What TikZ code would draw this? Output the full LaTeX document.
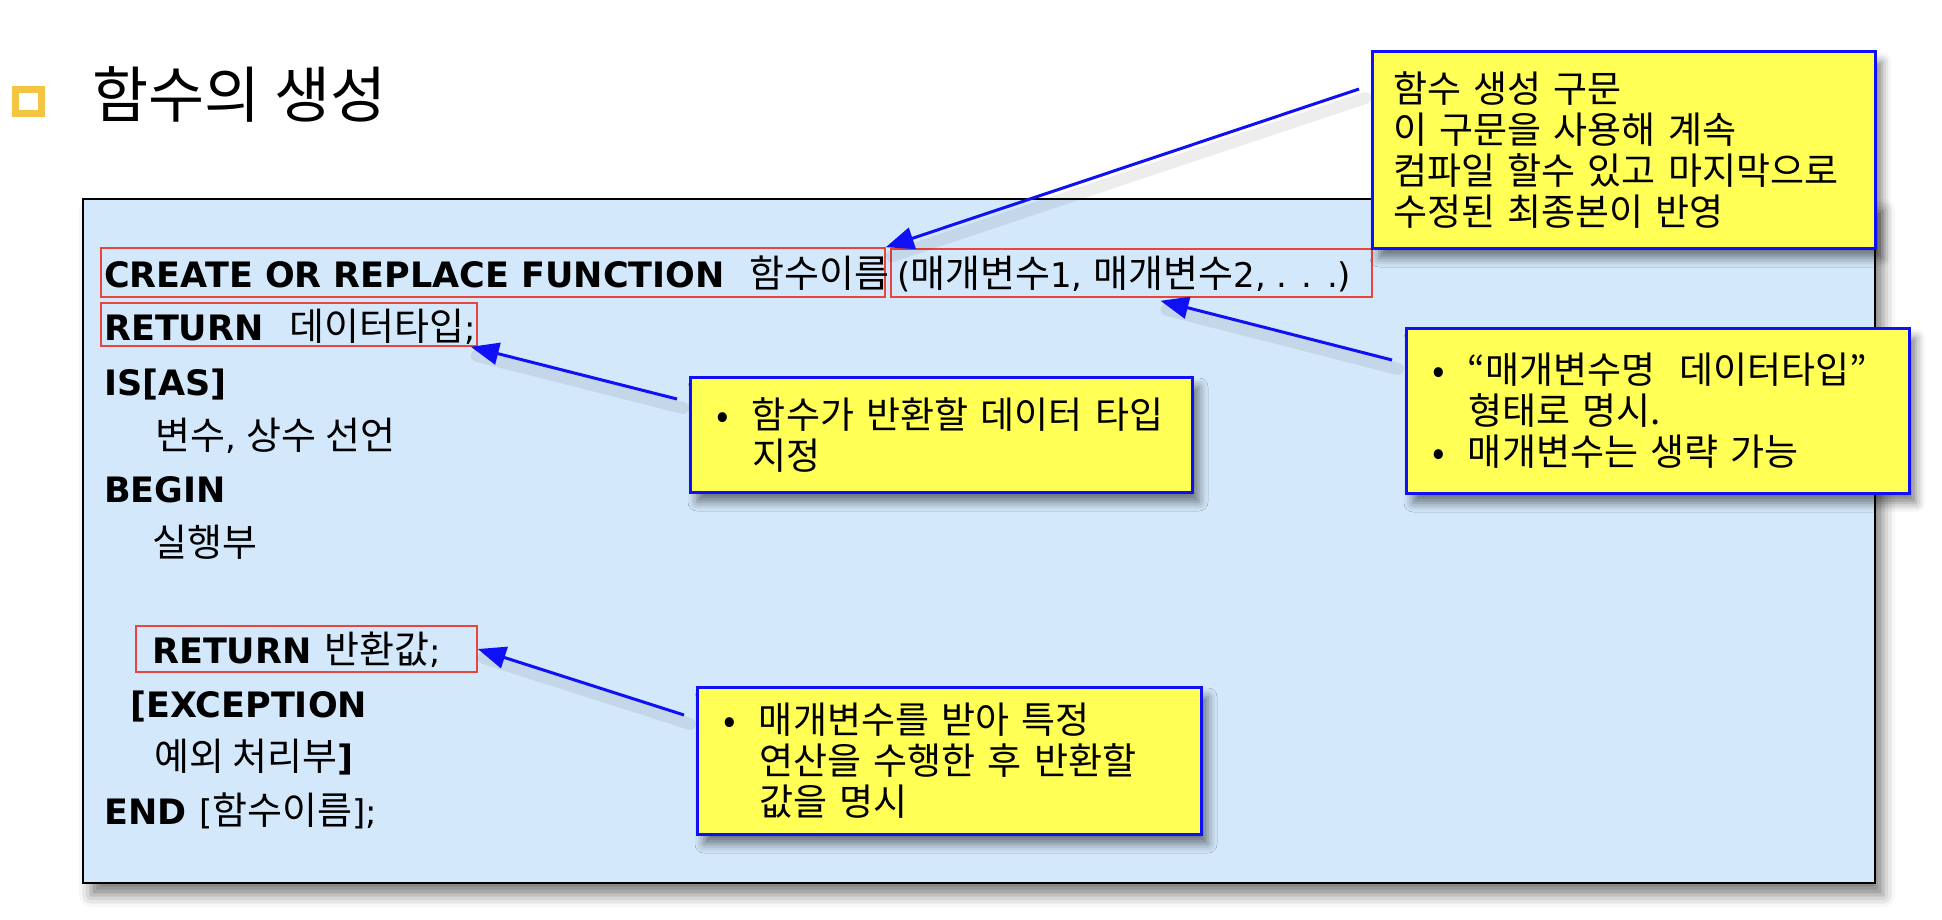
\documentclass[tikz,border=0pt]{standalone}
\usepackage{fontspec}
\setmainfont{Noto Sans CJK KR}
\newfontfamily\kwfont{DejaVu Sans}
\usetikzlibrary{arrows.meta,fit,shadows.blur}

\definecolor{paneblue}{HTML}{D3E8FB}
\definecolor{noteyellow}{HTML}{FFFF55}
\definecolor{noteblue}{HTML}{1010F5}
\definecolor{markred}{HTML}{E8453C}
\definecolor{titlegold}{HTML}{F4C542}

\newcommand{\kw}[1]{{\kwfont\fontsize{35}{40}\selectfont\bfseries #1}}
\newcommand{\lat}[1]{{\kwfont\fontsize{34}{40}\selectfont #1}}
\newcommand{\bul}{\makebox[36pt][l]{•}}

\tikzset{
  codeline/.style={anchor=base west, inner sep=0pt, font=\fontsize{38}{40}\selectfont},
  redbox/.style={draw=markred, line width=1.6pt, inner sep=0pt},
  pane/.style={draw=black, fill=paneblue, line width=2pt, inner sep=0pt,
    blur shadow={shadow xshift=8pt, shadow yshift=-12pt, shadow blur radius=12pt, shadow opacity=50}},
  note/.style={draw=noteblue, fill=noteyellow, line width=3pt, align=left, inner ysep=0pt,
    font=\fontsize{37}{41}\selectfont,
    blur shadow={shadow xshift=7pt, shadow yshift=-10pt, shadow blur radius=9pt, shadow opacity=50}},
  pointer/.style={draw=noteblue, line width=3pt, -{Triangle[length=28pt,width=22pt]}},
  pointershade/.style={draw=black, opacity=0.07, line width=12pt, line cap=round, transform canvas={xshift=6pt,yshift=-9pt}},
}

\begin{document}
\begin{tikzpicture}[x=1pt,y=-1pt]
\useasboundingbox (0,0) rectangle (1942,920);

% title
\draw[titlegold, line width=7pt] (15.5,89.5) rectangle (41.5,113.5);
\node[anchor=base west, inner sep=0pt, font=\fontsize{61}{66}\selectfont] (title) at (92,118) {함수의 생성};

% code pane
\node[pane, fit={(83,199) (1875,883)}] (pane) {};

\node[redbox, fit={(101,248) (885,297)}] (boxfn) {};
\node[redbox, fit={(891,249) (1372,297)}] (boxpar) {};
\node[redbox, fit={(101,303) (477,346)}] (boxrt) {};
\node[redbox, fit={(136,626) (477,672)}] (boxrv) {};

\node[codeline] (l1a) at (104,287) {\kw{CREATE OR REPLACE FUNCTION}};
\node[codeline] (l1b) at (749,287) {함수이름};
\node[codeline] (l1c) at (897,287) {\lat{(}매개변수\lat{1, }매개변수\lat{2, . . .)}};
\node[codeline] (l2a) at (104,340) {\kw{RETURN}};
\node[codeline] (l2b) at (289,340) {데이터타입\lat{;}};
\node[codeline] (l3) at (104,395) {\kw{IS[AS]}};
\node[codeline] (l4) at (155,449) {변수\lat{, }상수 선언};
\node[codeline] (l5) at (104,502) {\kw{BEGIN}};
\node[codeline] (l6) at (152,556) {실행부};
\node[codeline] (l7a) at (152,663) {\kw{RETURN}};
\node[codeline] (l7b) at (324,663) {반환값\lat{;}};
\node[codeline] (l8) at (130,717) {\kw{[EXCEPTION}};
\node[codeline] (l9) at (154,770) {예외 처리부\kw{]}};
\node[codeline] (l10a) at (104,824) {\kw{END}};
\node[codeline] (l10b) at (199,824) {\lat{[}함수이름\lat{];}};

% pointers
\coordinate (fromA) at (1359,89);
\coordinate (fromB) at (1392,360);
\coordinate (fromC) at (677,399);
\coordinate (fromD) at (684,715);
\draw[pointershade] (fromA) -- (boxfn.north east);
\draw[pointershade] (fromB) -- ([xshift=29pt,yshift=-3pt]boxpar.south);
\draw[pointershade] (fromC) -- ([xshift=-7pt]boxrt.south east);
\draw[pointershade] (fromD) -- (boxrv.east);
\draw[pointer] (fromA) -- (boxfn.north east);
\draw[pointer] (fromB) -- ([xshift=29pt,yshift=-3pt]boxpar.south);
\draw[pointer] (fromC) -- ([xshift=-7pt]boxrt.south east);
\draw[pointer] (fromD) -- (boxrv.east);

% notes
\node[note, inner xsep=21pt, text width=461pt, minimum width=503pt, minimum height=196pt] (noteA) at (1623.5,150)
  {함수 생성 구문\\이 구문을 사용해 계속\\컴파일 할수 있고 마지막으로\\수정된 최종본이 반영};
\node[note, inner xsep=26pt, text width=451pt, minimum width=503pt, minimum height=165pt] (noteB) at (1657.5,410.5)
  {\bul “매개변수명\hspace{24pt}데이터타입”\\\hspace*{36pt}형태로 명시.\\\bul 매개변수는 생략 가능};
\node[note, inner xsep=26pt, text width=450pt, minimum width=502pt, minimum height=115pt] (noteC) at (941,434.5)
  {\bul 함수가 반환할 데이터 타입\\\hspace*{36pt}지정};
\node[note, inner xsep=26pt, text width=452pt, minimum width=504pt, minimum height=147pt] (noteD) at (949,760.5)
  {\bul 매개변수를 받아 특정\\\hspace*{36pt}연산을 수행한 후 반환할\\\hspace*{36pt}값을 명시};
\end{tikzpicture}
\end{document}
